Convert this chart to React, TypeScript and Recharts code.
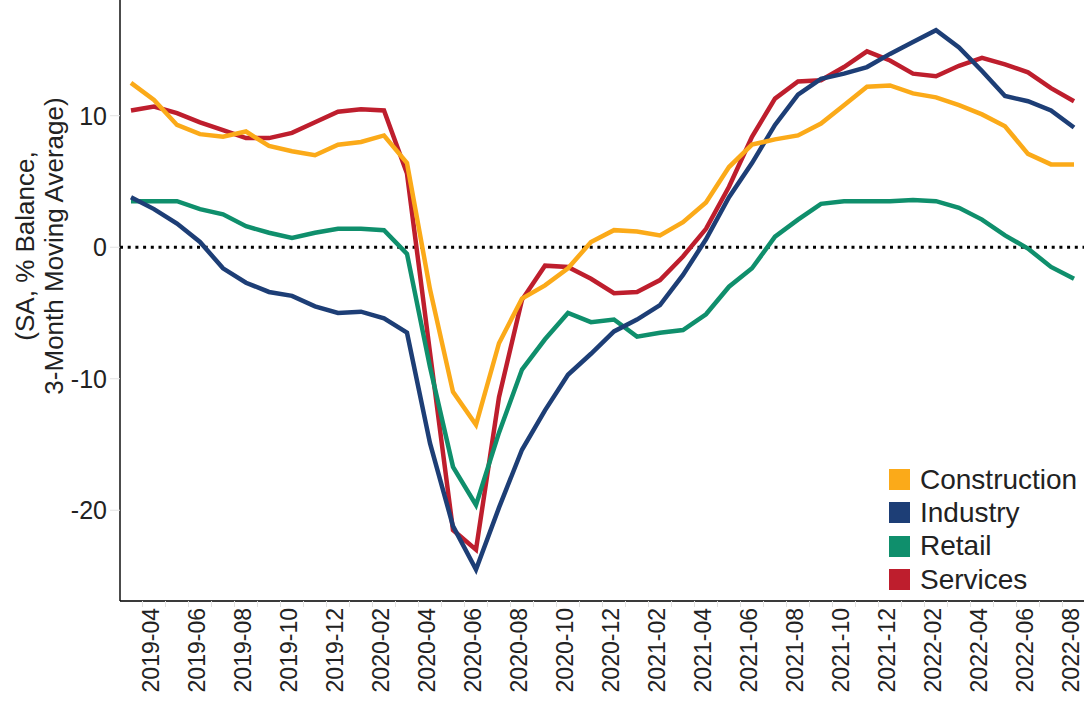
import React from 'react'
import { LineChart, Line, XAxis, YAxis, ReferenceLine } from 'recharts'

// monthly, 2019-03 .. 2022-08
const months = [
  '2019-03', '2019-04', '2019-05', '2019-06', '2019-07', '2019-08', '2019-09', '2019-10', '2019-11', '2019-12',
  '2020-01', '2020-02', '2020-03', '2020-04', '2020-05', '2020-06', '2020-07', '2020-08', '2020-09', '2020-10',
  '2020-11', '2020-12', '2021-01', '2021-02', '2021-03', '2021-04', '2021-05', '2021-06', '2021-07', '2021-08',
  '2021-09', '2021-10', '2021-11', '2021-12', '2022-01', '2022-02', '2022-03', '2022-04', '2022-05', '2022-06',
  '2022-07', '2022-08',
]

const construction = [
  12.5, 11.2, 9.3, 8.6, 8.4, 8.8, 7.7, 7.3, 7.0, 7.8, 8.0, 8.5, 6.4, -3.2, -11.0, -13.5, -7.3, -3.9, -2.9, -1.6,
  0.4, 1.3, 1.2, 0.9, 1.9, 3.4, 6.1, 7.8, 8.2, 8.5, 9.4, 10.8, 12.2, 12.3, 11.7, 11.4, 10.8, 10.1, 9.2, 7.1,
  6.3, 6.3,
]
const industry = [
  3.8, 2.9, 1.8, 0.4, -1.6, -2.7, -3.4, -3.7, -4.5, -5.0, -4.9, -5.4, -6.5, -14.9, -21.2, -24.5, -19.8, -15.4, -12.4, -9.7,
  -8.1, -6.4, -5.5, -4.4, -2.1, 0.6, 3.8, 6.4, 9.3, 11.6, 12.8, 13.2, 13.7, 14.7, 15.6, 16.5, 15.2, 13.4, 11.5, 11.1,
  10.4, 9.1,
]
const retail = [
  3.5, 3.5, 3.5, 2.9, 2.5, 1.6, 1.1, 0.7, 1.1, 1.4, 1.4, 1.3, -0.5, -9.1, -16.7, -19.6, -14.1, -9.3, -7.0, -5.0,
  -5.7, -5.5, -6.8, -6.5, -6.3, -5.1, -3.0, -1.6, 0.8, 2.1, 3.3, 3.5, 3.5, 3.5, 3.6, 3.5, 3.0, 2.1, 0.9, -0.1,
  -1.5, -2.4,
]
const services = [
  10.4, 10.7, 10.2, 9.5, 8.9, 8.3, 8.3, 8.7, 9.5, 10.3, 10.5, 10.4, 5.6, -8.0, -21.5, -23.0, -11.4, -4.0, -1.4, -1.5,
  -2.4, -3.5, -3.4, -2.5, -0.7, 1.4, 4.6, 8.4, 11.3, 12.6, 12.7, 13.7, 14.9, 14.2, 13.2, 13.0, 13.8, 14.4, 13.9, 13.3,
  12.1, 11.1,
]

const yTicks = [-20, -10, 0, 10]

const series = [
  { key: 'Construction', color: '#FBAA19' },
  { key: 'Industry', color: '#1D3E76' },
  { key: 'Retail', color: '#0F8F6C' },
  { key: 'Services', color: '#BE1E2D' },
]

const data = months.map((m, i) => ({
  i,
  month: m,
  Construction: construction[i],
  Industry: industry[i],
  Retail: retail[i],
  Services: services[i],
}))

// labels every other month from 2019-04, faint ticks between the months
const xTicks: number[] = []
for (let i = 0; i < months.length - 1; i++) {
  xTicks.push(i + 0.5)
  if (i % 2 === 1) xTicks.push(i)
}
xTicks.push(months.length - 1)

const FONT = '"Liberation Sans", Arial, sans-serif'

const XTick = (props: any) => {
  const { x, y, payload } = props
  const v = payload.value
  if (!Number.isInteger(v)) {
    return <line x1={x} x2={x} y1={y} y2={y + 6} stroke="#e2e2e2" strokeWidth={1} />
  }
  const tx = x - 3
  const ty = y + 7
  return (
    <text
      x={tx}
      y={ty}
      transform={`rotate(-90, ${tx}, ${ty})`}
      textAnchor="end"
      dominantBaseline="central"
      fontSize={23}
      fontFamily={FONT}
      fill="#222"
    >
      {months[v]}
    </text>
  )
}

const YLabel = () => (
  <text
    transform="translate(34, 246) rotate(-90)"
    textAnchor="middle"
    fontSize={26}
    fontFamily={FONT}
    fill="#222"
  >
    <tspan x={0} dy={0}>(SA, % Balance,</tspan>
    <tspan x={0} dy={29}>3-Month Moving Average)</tspan>
  </text>
)

const App = () => {
  return (
    <div style={{ position: 'absolute', left: 0, top: 0, width: 1084, height: 703, background: '#fff' }}>
      <LineChart width={1084} height={703} data={data} margin={{ top: 0, right: 0, bottom: 0, left: 0 }}>
        <XAxis
          dataKey="i"
          type="number"
          domain={[-0.478, 41.435]}
          allowDataOverflow
          ticks={xTicks}
          interval={0}
          tick={<XTick />}
          tickLine={false}
          tickSize={0}
          tickMargin={0}
          height={102}
          axisLine={{ stroke: '#3a3a3a', strokeWidth: 2 }}
        />
        <YAxis
          type="number"
          domain={[-26.9, 18.8]}
          allowDataOverflow
          ticks={yTicks}
          width={120}
          tickSize={10}
          tickMargin={3}
          tickLine={{ stroke: '#e2e2e2' }}
          axisLine={{ stroke: '#111', strokeWidth: 1.5 }}
          tick={{ fontSize: 25, fontFamily: FONT, fill: '#222' }}
          label={YLabel}
        />
        <ReferenceLine y={0} stroke="#000" strokeWidth={3} strokeDasharray="3 4.7" />
        {[...series].reverse().map((s) => (
          <Line
            key={s.key}
            type="linear"
            dataKey={s.key}
            stroke={s.color}
            strokeWidth={4.5}
            dot={false}
            isAnimationActive={false}
          />
        ))}
      </LineChart>
      <div style={{ position: 'absolute', left: 889, top: 463, fontFamily: FONT, fontSize: 28, color: '#222' }}>
        {series.map((s) => (
          <div key={s.key} style={{ display: 'flex', alignItems: 'center', height: 33.3 }}>
            <span style={{ display: 'inline-block', width: 21, height: 21, background: s.color, marginRight: 10 }} />
            <span style={{ lineHeight: '28px' }}>{s.key}</span>
          </div>
        ))}
      </div>
    </div>
  )
}

export default App
